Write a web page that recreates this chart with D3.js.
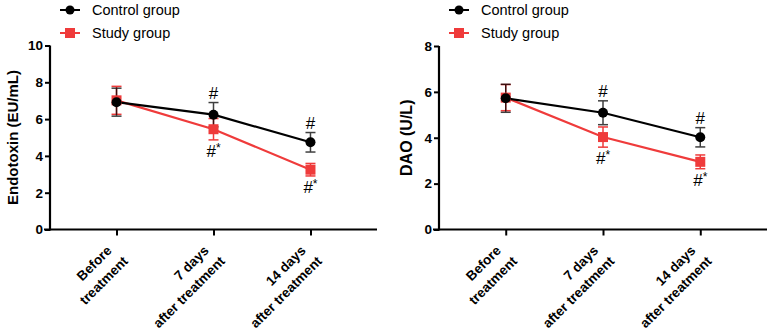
<!DOCTYPE html>
<html><head><meta charset="utf-8">
<script src="https://cdn.jsdelivr.net/npm/d3@7"></script>
<style>
html,body{margin:0;padding:0;background:#fff;}
svg text{font-family:Arial,"Liberation Sans",Helvetica,sans-serif;}
</style></head>
<body>
<svg id="c" width="767" height="335"></svg>
<script>
// ---- data ----
const categories = [["Before","treatment"],["7 days","after treatment"],["14 days","after treatment"]];
const seriesNames = ["Control group","Study group"];

// Panel 1: Endotoxin (EU/mL)
const endoControlMean = [6.92, 6.24, 4.74];
const endoControlSD   = [0.76, 0.66, 0.53];
const endoStudyMean   = [7.02, 5.45, 3.25];
const endoStudySD     = [0.76, 0.58, 0.34];
const endoControlMark = ["", "#", "#"];
const endoStudyMark   = ["", "#*", "#*"];
const endoTicks = [0,2,4,6,8,10];

// Panel 2: DAO (U/L)
const daoControlMean = [5.72, 5.09, 4.02];
const daoControlSD   = [0.61, 0.52, 0.42];
const daoStudyMean   = [5.75, 4.03, 2.95];
const daoStudySD     = [0.57, 0.44, 0.30];
const daoControlMark = ["", "#", "#"];
const daoStudyMark   = ["", "#*", "#*"];
const daoTicks = [0,2,4,6,8];

const colors = ["#000000", "#ef3b3b"];

const svg = d3.select("#c");

function panel(opt){
  const g = svg.append("g");
  const x = d3.scalePoint().domain(d3.range(categories.length))
    .range([opt.x0, opt.x1]).padding(0.686);
  const y = d3.scaleLinear().domain([0, d3.max(opt.ticks)]).range([229.5, opt.yTop]);

  // y axis
  const ya = g.append("g").attr("transform", `translate(${opt.x0},0)`)
    .call(d3.axisLeft(y).tickValues(opt.ticks).tickSize(5).tickPadding(2).tickFormat(d3.format("d")));
  ya.select(".domain").attr("stroke","#000").attr("stroke-width",2.2).attr("d",`M0,${y(0)+1}V${opt.yTop}`);
  ya.selectAll(".tick line").attr("stroke","#000").attr("stroke-width",2);
  ya.selectAll(".tick text").attr("font-size",13.5).attr("font-weight","bold").attr("fill","#000");

  // x axis
  const xa = g.append("g").attr("transform", `translate(0,${y(0)})`)
    .call(d3.axisBottom(x).tickSize(6).tickFormat(""));
  xa.select(".domain").attr("stroke","#000").attr("stroke-width",2.2).attr("d",`M${opt.x0-6},0H${opt.x1}`);
  xa.selectAll(".tick line").attr("stroke","#000").attr("stroke-width",2);

  // x tick labels (rotated, two lines)
  categories.forEach((lines,i)=>{
    const t = g.append("text")
      .attr("transform", `translate(${x(i)-4},${y(0)+22}) rotate(-45)`)
      .attr("text-anchor","end").attr("font-size",13.5).attr("font-weight","bold").attr("fill","#000");
    lines.forEach((ln,j)=>{
      t.append("tspan").attr("x", j===0 ? 0 : 4).attr("dy", j===0 ? 0 : "1.4em").text(ln);
    });
  });

  // y title
  g.append("text")
    .attr("transform", `translate(${opt.titleX},${(y(0)+opt.yTop)/2}) rotate(-90)`)
    .attr("text-anchor","middle").attr("font-size",opt.titleSize).attr("font-weight","bold").attr("fill","#000")
    .text(opt.title);

  const series = [
    {mean: opt.cMean, sd: opt.cSD, mark: opt.cMark, color: colors[0], shape: "circle", dir: -1},
    {mean: opt.sMean, sd: opt.sSD, mark: opt.sMark, color: colors[1], shape: "square", dir: 1}
  ];
  const line = d3.line().x((d,i)=>x(i)).y(d=>y(d));

  // error bars (drawn underneath)
  [series[1], series[0]].forEach(s=>{
    const eg = g.append("g").attr("stroke", s.color).attr("stroke-width",1.5)
      .attr("opacity", s.shape==="circle" ? 0.75 : 1);
    s.mean.forEach((m,i)=>{
      const cx = x(i), t = y(m+s.sd[i]), b = y(m-s.sd[i]);
      eg.append("line").attr("x1",cx).attr("x2",cx).attr("y1",t).attr("y2",b);
      eg.append("line").attr("x1",cx-5).attr("x2",cx+5).attr("y1",t).attr("y2",t);
      eg.append("line").attr("x1",cx-5).attr("x2",cx+5).attr("y1",b).attr("y2",b);
    });
  });
  // lines
  [series[1], series[0]].forEach(s=>{
    g.append("path").datum(s.mean).attr("d", line).attr("fill","none")
      .attr("stroke", s.color).attr("stroke-width",2.2);
  });
  // markers
  [series[1], series[0]].forEach(s=>{
    s.mean.forEach((m,i)=>{
      if(s.shape==="circle"){
        g.append("circle").attr("cx",x(i)).attr("cy",y(m)).attr("r",5).attr("fill",s.color);
      } else {
        g.append("rect").attr("x",x(i)-5).attr("y",y(m)-5).attr("width",10).attr("height",10).attr("fill",s.color);
      }
    });
  });
  // significance marks
  series.forEach(s=>{
    s.mean.forEach((m,i)=>{
      if(!s.mark[i]) return;
      const t = g.append("text").attr("x", x(i)).attr("text-anchor","middle")
        .attr("font-size",17).attr("fill","#000");
      if(s.dir<0){
        t.attr("y", y(m+s.sd[i]) - 4);
        t.text(s.mark[i]);
      } else {
        t.attr("y", y(m-s.sd[i]) + 17);
        t.append("tspan").text("#");
        t.append("tspan").attr("font-size",12).attr("dy",-5).text("*");
      }
    });
  });

  // legend
  const lg = g.append("g").attr("transform", `translate(${opt.legX},0)`);
  series.forEach((s,k)=>{
    const ly = 10 + k*23;
    lg.append("line").attr("x1",0).attr("x2",20).attr("y1",ly).attr("y2",ly)
      .attr("stroke",s.color).attr("stroke-width",2);
    if(s.shape==="circle") lg.append("circle").attr("cx",10).attr("cy",ly).attr("r",4.5).attr("fill",s.color);
    else lg.append("rect").attr("x",5).attr("y",ly-5).attr("width",10).attr("height",10).attr("fill",s.color);
    lg.append("text").attr("x",32).attr("y",ly+5).attr("font-size",14.5).attr("fill","#000").text(seriesNames[k]);
  });
}

panel({x0:50, x1:377, yTop:45.5, ticks:endoTicks, title:"Endotoxin (EU/mL)", titleX:18, titleSize:15,
  cMean:endoControlMean, cSD:endoControlSD, sMean:endoStudyMean, sSD:endoStudySD,
  cMark:endoControlMark, sMark:endoStudyMark, legX:60});
panel({x0:439, x1:767, yTop:46, ticks:daoTicks, title:"DAO (U/L)", titleX:412, titleSize:16,
  cMean:daoControlMean, cSD:daoControlSD, sMean:daoStudyMean, sSD:daoStudySD,
  cMark:daoControlMark, sMark:daoStudyMark, legX:449});
</script>
</body></html>
